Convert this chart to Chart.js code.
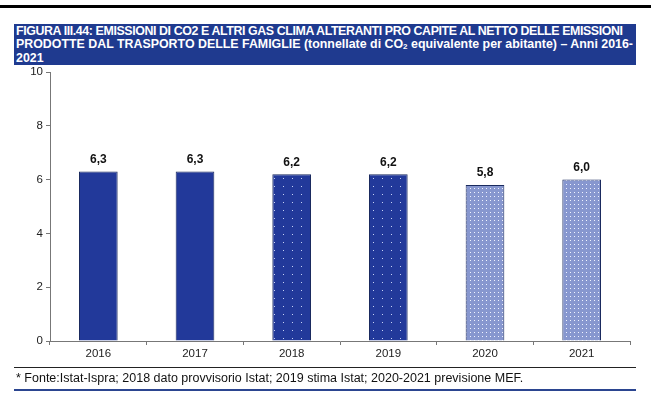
<!DOCTYPE html>
<html>
<head>
<meta charset="utf-8">
<script src="https://cdn.jsdelivr.net/npm/chart.js@4"></script>
<style>
  body { margin: 0; width: 651px; height: 414px; background: #fff; position: relative; overflow: hidden; font-family: "Liberation Sans", Arial, sans-serif; }
  #topline { position: absolute; left: 0; top: 5px; width: 651px; height: 3px; background: #000; }
  #titolo { position: absolute; left: 14px; top: 24px; width: 622px; height: 41px; background: #1f3a8f; color: #fff; font-weight: bold; font-size: 12.4px; line-height: 13.3px; padding: 1px 2px; box-sizing: border-box; white-space: nowrap; overflow: hidden; }
  #titolo .stretta { letter-spacing: -0.4px; }
  #titolo sub { font-size: 8px; vertical-align: -1px; line-height: 0; }
  #box { position: absolute; left: 0; top: 62px; width: 651px; height: 306px; }
  #riga1 { position: absolute; left: 14px; top: 367px; width: 622px; height: 1px; background: #222; }
  #nota { position: absolute; left: 16px; top: 371px; font-size: 12.5px; color: #111; white-space: nowrap; }
  #riga2 { position: absolute; left: 14px; top: 389px; width: 622px; height: 2px; background: #2b4590; }
</style>
</head>
<body>
<div id="topline"></div>
<div id="titolo"><span class="stretta">FIGURA III.44: EMISSIONI DI CO2 E ALTRI GAS CLIMA ALTERANTI PRO CAPITE AL NETTO DELLE EMISSIONI</span><br>PRODOTTE DAL TRASPORTO DELLE FAMIGLIE (tonnellate di CO<sub>2</sub> equivalente per abitante) – Anni 2016-<br>2021</div>
<div id="box"><canvas id="grafico"></canvas></div>
<div id="riga1"></div>
<div id="nota">* Fonte:Istat-Ispra; 2018 dato provvisorio Istat; 2019 stima Istat; 2020-2021 previsione MEF.</div>
<div id="riga2"></div>
<script>
let anni = ["2016", "2017", "2018", "2019", "2020", "2021"]
let emissioni = [6.3, 6.3, 6.2, 6.2, 5.8, 6.0]
let etichette = ["6,3", "6,3", "6,2", "6,2", "5,8", "6,0"]

// motivi a puntini per i dati provvisori e le previsioni
function puntini(fondo, punto, passoX, passoY) {
    let c = document.createElement("canvas")
    c.width = passoX
    c.height = passoY
    let ctx = c.getContext("2d")
    ctx.fillStyle = fondo
    ctx.fillRect(0, 0, passoX, passoY)
    ctx.fillStyle = punto
    ctx.fillRect(Math.floor(passoX / 2), Math.floor(passoY / 2), 1, 1)
    return ctx.createPattern(c, "repeat")
}

let blu = "#22399a"
let scuro = puntini("#22399a", "#c8d2f5", 9, 8)
let chiaro = puntini("#8797cf", "#f0f3ff", 4, 4)
let riempimenti = [blu, blu, scuro, scuro, chiaro, chiaro]

const valori = {
    id: "valori",
    afterDatasetsDraw(chart) {
        let ctx = chart.ctx
        let meta = chart.getDatasetMeta(0)
        ctx.save()
        ctx.font = "bold 12px 'Liberation Sans', Arial, sans-serif"
        ctx.fillStyle = "#111"
        ctx.textAlign = "center"
        ctx.textBaseline = "bottom"
        meta.data.forEach((barra, i) => {
            ctx.fillText(etichette[i], barra.x, barra.y - 6)
        })
        ctx.restore()
    }
}

let grafico = document.getElementById("grafico")
new Chart(grafico, {
    type: "bar",
    data: {
        labels: anni,
        datasets: [{
            data: emissioni,
            backgroundColor: riempimenti,
            borderColor: "#1a2a5e",
            borderWidth: 1,
            categoryPercentage: 1,
            barPercentage: 0.4
        }]
    },
    options: {
        responsive: true,
        maintainAspectRatio: false,
        animation: false,
        layout: { padding: { top: 10, right: 21, left: 0, bottom: 0 } },
        plugins: { legend: { display: false }, tooltip: { enabled: false } },
        scales: {
            x: {
                grid: { drawOnChartArea: false, drawTicks: true, tickLength: 4, color: "#777" },
                border: { color: "#777" },
                ticks: { color: "#222", font: { family: "'Liberation Sans', Arial, sans-serif", size: 11.5 }, padding: 2 },
                afterFit: (s) => { s.height = 27 }
            },
            y: {
                min: 0,
                max: 10,
                ticks: { stepSize: 2, color: "#222", font: { family: "'Liberation Sans', Arial, sans-serif", size: 11.5 }, padding: 3 },
                grid: { drawOnChartArea: false, drawTicks: true, tickLength: 4, color: "#777" },
                border: { color: "#777" },
                afterFit: (s) => { s.width = 50 }
            }
        }
    },
    plugins: [valori]
})
</script>
</body>
</html>
